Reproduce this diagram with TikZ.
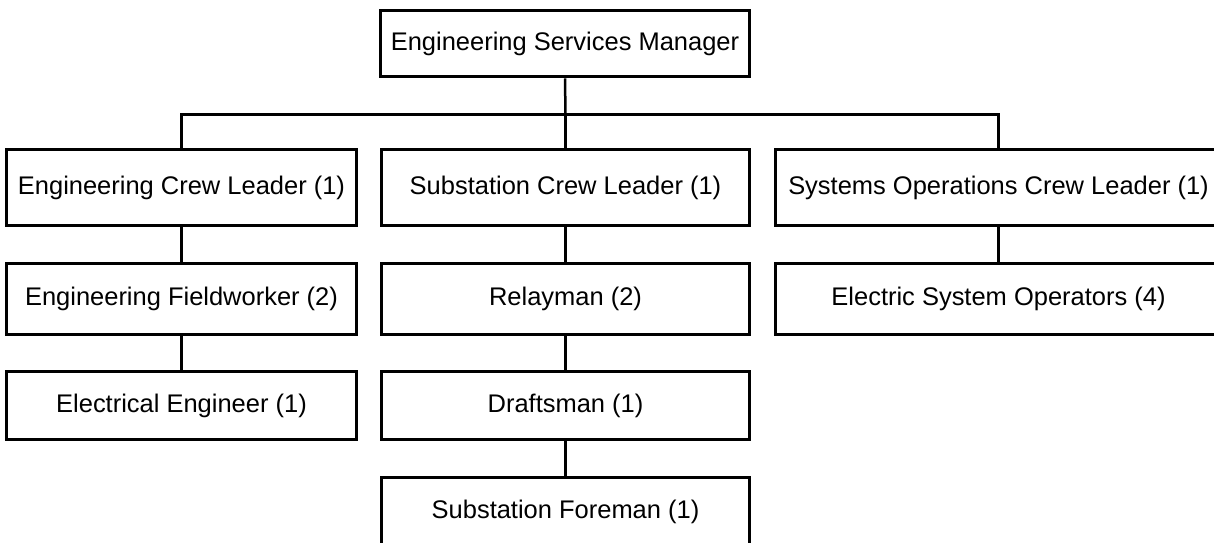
\documentclass[tikz,border=0pt]{standalone}
\usepackage{fontspec}
\setmainfont{Liberation Sans}
\usetikzlibrary{positioning}

\begin{document}
\begin{tikzpicture}[x=0.02cm, y=-0.02cm,
    post/.style={draw=black, line width=0.06cm, fill=white, inner sep=0pt,
        font=\fontsize{14.5}{17}\selectfont},
    link/.style={draw=black, line width=0.05cm}]

    \useasboundingbox (0,0) rectangle (1214,543);
    \clip (0,0) rectangle (1214,543);

    % manager
    \node[post, minimum width=7.4cm, minimum height=1.33cm] (esm) at (565,43.75) {Engineering Services Manager};

    % crew leaders
    \node[post, minimum width=7cm, minimum height=1.52cm] (ecl) at (181.5,187.5) {Engineering Crew Leader (1)};
    \node[post, minimum width=7.38cm, minimum height=1.52cm] (scl) at (565.5,187.5) {Substation Crew Leader (1)};
    \node[post, minimum width=8.94cm, minimum height=1.52cm] (socl) at (998.5,187.5) {Systems Operations Crew Leader (1)};

    % second level
    \node[post, minimum width=7cm, minimum height=1.44cm] (efw) at (181.5,299) {Engineering Fieldworker (2)};
    \node[post, minimum width=7.38cm, minimum height=1.44cm] (rly) at (565.5,299) {Relayman (2)};
    \node[post, minimum width=8.94cm, minimum height=1.44cm] (eso) at (998.5,299) {Electric System Operators (4)};

    % third level
    \node[post, minimum width=7cm, minimum height=1.38cm] (eng) at (181.5,405.5) {Electrical Engineer (1)};
    \node[post, minimum width=7.38cm, minimum height=1.38cm] (dft) at (565.5,405.5) {Draftsman (1)};

    % foreman
    \node[post, minimum width=7.38cm, minimum height=1.4cm] (sfm) at (565.5,512) {Substation Foreman (1)};

    % connectors
    \coordinate (bus) at (565.5,114.5);
    \draw[link] (esm.south) -- (bus);
    \draw[link] (ecl.north) |- (bus) -| (socl.north);
    \draw[link] (bus) -- (scl.north);
    \draw[link] (ecl) -- (efw);
    \draw[link] (efw) -- (eng);
    \draw[link] (scl) -- (rly);
    \draw[link] (rly) -- (dft);
    \draw[link] (dft) -- (sfm);
    \draw[link] (socl) -- (eso);

\end{tikzpicture}
\end{document}
